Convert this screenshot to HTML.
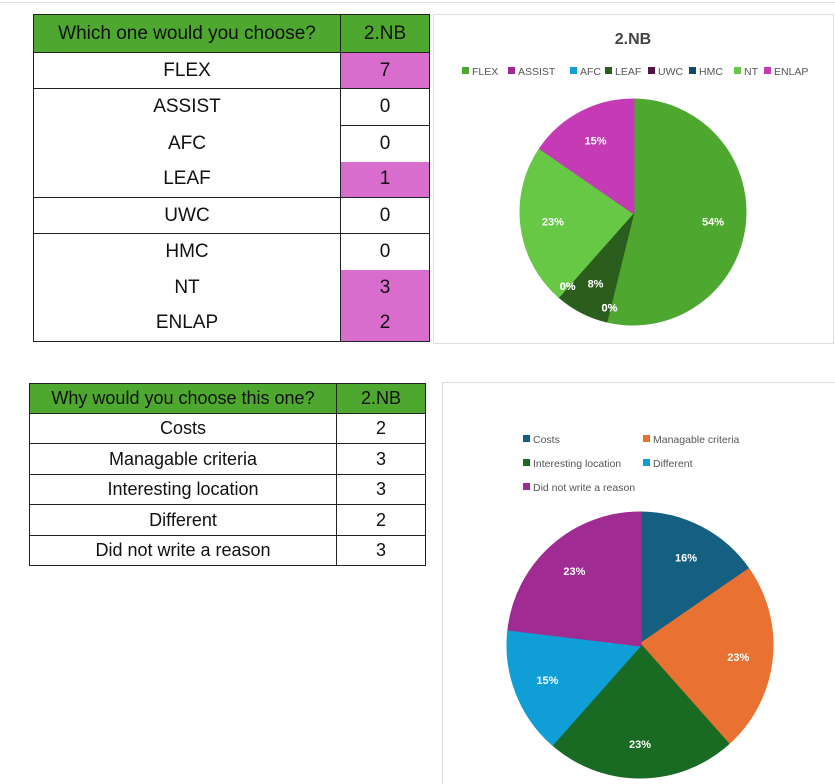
<!DOCTYPE html>
<html><head><meta charset="utf-8"><style>
body{margin:0;width:835px;height:784px;background:#fff;position:relative;overflow:hidden;font-family:"Liberation Sans",sans-serif}
.t{position:absolute;border-collapse:collapse;font-size:19px;color:#111}
.t td{text-align:center;padding:0;border-left:1.5px solid #222;border-right:1.5px solid #222}
.hd td{background:#4ea72e;border:1.5px solid #222}
.pk{background:#d86dcd}
.bt{border-top:1.5px solid #222}
svg{position:absolute;left:0;top:0}
</style></head><body>
<div style="position:absolute;left:0;top:2px;width:835px;height:1px;background:#ddd"></div>
<table class="t" style="left:33px;top:14px;width:397px">
<tr class="hd" style="height:38px"><td style="width:306px">Which one would you choose?</td><td>2.NB</td></tr>
<tr style="height:36px"><td>FLEX</td><td class="pk">7</td></tr>
<tr style="height:37px"><td class="bt">ASSIST</td><td class="bt">0</td></tr>
<tr style="height:36px"><td>AFC</td><td class="bt">0</td></tr>
<tr style="height:36px"><td>LEAF</td><td class="pk">1</td></tr>
<tr style="height:36px"><td class="bt">UWC</td><td class="bt">0</td></tr>
<tr style="height:36px"><td class="bt">HMC</td><td class="bt">0</td></tr>
<tr style="height:36px"><td>NT</td><td class="pk">3</td></tr>
<tr style="height:36px"><td style="border-bottom:1.5px solid #222">ENLAP</td><td class="pk" style="border-bottom:1.5px solid #222">2</td></tr>
</table>
<table class="t" style="left:29px;top:383px;width:397px;font-size:18px">
<tr class="hd" style="height:30px"><td style="width:306px">Why would you choose this one?</td><td>2.NB</td></tr>
<tr style="height:30px"><td class="bt">Costs</td><td class="bt">2</td></tr>
<tr style="height:31px"><td class="bt">Managable criteria</td><td class="bt">3</td></tr>
<tr style="height:30px"><td class="bt">Interesting location</td><td class="bt">3</td></tr>
<tr style="height:31px"><td class="bt">Different</td><td class="bt">2</td></tr>
<tr style="height:30px"><td class="bt" style="border-bottom:1.5px solid #222">Did not write a reason</td><td class="bt" style="border-bottom:1.5px solid #222">3</td></tr>
</table>
<svg id="s" width="835" height="784">
<rect x="433.5" y="14.5" width="400" height="329" fill="none" stroke="#ddd"/>
<rect x="442.5" y="382.5" width="400" height="410" fill="none" stroke="#ddd"/>
<text x="633" y="44" text-anchor="middle" font-size="16" font-weight="bold" fill="#444">2.NB</text>
</svg>
<script>
const cats1=["FLEX","ASSIST","AFC","LEAF","UWC","HMC","NT","ENLAP"];
const vals1=[7,0,0,1,0,0,3,2];
const cols1=["#4ea72e","#a0288f","#0f9ed5","#2b5e1d","#4e1446","#0e4a6a","#66c844","#c53bb5"];
const cats2=["Costs","Managable criteria","Interesting location","Different","Did not write a reason"];
const vals2=[2,3,3,2,3];
const labels2=["16%","23%","23%","15%","23%"];
const cols2=["#156082","#e97132","#196b24","#0f9ed5","#a02b93"];
const s=document.getElementById('s');
const NS="http://www.w3.org/2000/svg";
function mk(t,a){const e=document.createElementNS(NS,t);for(const k in a)e.setAttribute(k,a[k]);s.appendChild(e);return e;}
function pie(cats,vals,cols,cx,cy,r,labels,pre,lr){
  const tot=vals.reduce((a,b)=>a+b,0);let a0=-Math.PI/2;
  const lbl=[];
  vals.forEach((v,i)=>{
    const a1=a0+v/tot*2*Math.PI;
    if(v>0){
      const big=(a1-a0)>Math.PI?1:0;
      const p=mk('path',{d:`M${cx},${cy}L${cx+r*Math.cos(a0)},${cy+r*Math.sin(a0)}A${r},${r} 0 ${big} 1 ${cx+r*Math.cos(a1)},${cy+r*Math.sin(a1)}Z`,fill:cols[i],stroke:cols[i],'stroke-width':3,'stroke-linejoin':'round'});
      
      
    }
    const m=(a0+a1)/2;
    lbl.push([m,i,v,tot]);
    a0=a1;
  });
  lbl.forEach(([m,i,v,t])=>{
    const txt=labels?labels[i]:Math.round(v/t*100)+'%';
    let rr=r*lr;
    let dx=0,dy=0;
    if(v===0){rr=r*0.88;}
    const e=mk('text',{x:cx+rr*Math.cos(m)+dx,y:cy+rr*Math.sin(m)+dy+4,'text-anchor':'middle','font-size':11,'font-weight':'bold',fill:'#fff'});
    e.textContent=txt;
    
    
  });
}
pie(cats1,vals1,cols1,633,212,112,null,'chart1',0.72);
pie(cats2,vals2,cols2,640,645,132,labels2,'chart2',0.75);
// legend 1
let lx=[462,508,570,605,648,689,734,764];
cats1.forEach((c,i)=>{
  const r=mk('rect',{x:lx[i],y:67,width:7,height:7,fill:cols1[i]});
  
  
  const t=mk('text',{x:lx[i]+10,y:75,'font-size':10.5,fill:'#555'});t.textContent=c;
  
  
});
const lp=[[523,439],[643,439],[523,463],[643,463],[523,487]];
cats2.forEach((c,i)=>{
  const r=mk('rect',{x:lp[i][0],y:lp[i][1]-4,width:7,height:7,fill:cols2[i]});
  
  
  const t=mk('text',{x:lp[i][0]+10,y:lp[i][1]+4,'font-size':10.5,fill:'#555'});t.textContent=c;
  
  
});
</script>
</body></html>
